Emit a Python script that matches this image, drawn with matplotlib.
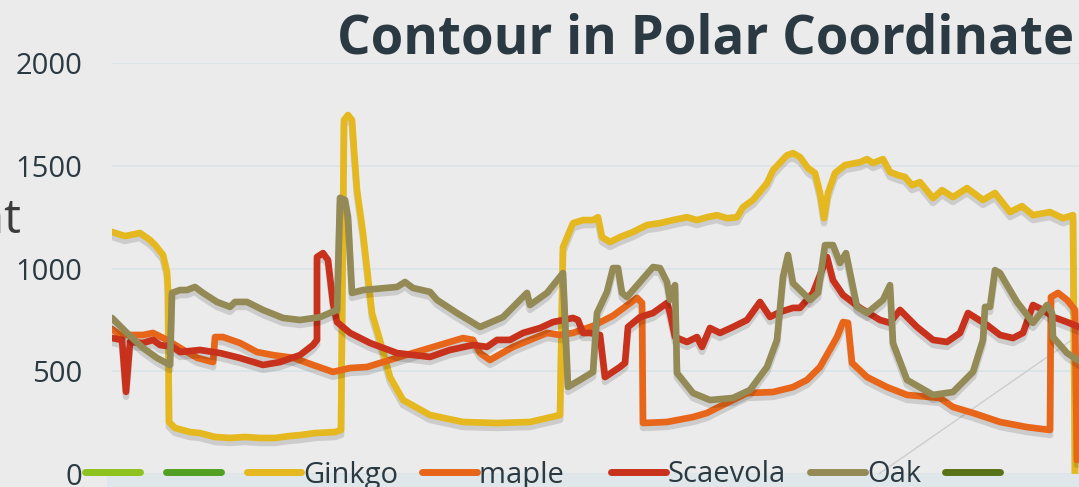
import matplotlib
matplotlib.use("Agg")
import matplotlib.pyplot as plt
import matplotlib.patheffects as pe
from matplotlib.lines import Line2D
from matplotlib.patches import Rectangle

plt.rcParams['font.family'] = ['Open Sans', 'DejaVu Sans']

# angle index (visible part of the chart) and height values
ginkgo_x = [0, 13, 28, 38, 43, 51, 55, 56, 57, 63, 78, 88, 103, 118, 133, 148, 163, 178, 188, 203,
            223, 229, 232, 236, 240, 242, 245, 251, 260, 268, 278, 291, 318, 351, 385, 418, 448, 451,
            461, 471, 481, 486, 490, 498, 508, 521, 535, 548, 561, 575, 585, 595, 605, 615, 625, 631,
            641, 655, 661, 675, 681, 688, 696, 703, 708, 712, 716, 723, 733, 748, 755, 761, 771, 778,
            786, 793, 800, 808, 821, 830, 841, 855, 871, 883, 898, 910, 921, 938, 951, 961, 963]
ginkgo_y = [1178, 1158, 1173, 1139, 1115, 1066, 983, 895, 252, 223, 203, 198, 179, 174, 179, 174, 174, 184, 188, 198,
            203, 213, 1723, 1748, 1723, 1577, 1382, 1172, 782, 650, 471, 359, 286, 252, 247, 252, 286, 1104,
            1221, 1236, 1236, 1250, 1153, 1129, 1153, 1178, 1212, 1221, 1236, 1250, 1236, 1250, 1260, 1245, 1250, 1299,
            1334, 1416, 1479, 1552, 1562, 1543, 1489, 1465, 1368, 1245, 1368, 1465, 1504, 1518, 1533, 1514, 1533, 1470,
            1455, 1446, 1406, 1421, 1343, 1382, 1348, 1392, 1334, 1368, 1275, 1304, 1260, 1275, 1245, 1260, 0]

maple_x = [0, 8, 31, 41, 55, 68, 85, 101, 103, 111, 128, 145, 161, 181, 201, 221, 238, 255, 285, 318,
           351, 361, 368, 378, 401, 435, 448, 461, 481, 501, 515, 525, 530, 531, 555, 581, 595, 615, 635,
           661, 681, 695, 708, 725, 731, 736, 740, 755, 775, 795, 828, 841, 861, 888, 915, 938, 939, 946,
           955, 963, 965]
maple_y = [705, 676, 676, 686, 652, 613, 565, 544, 666, 666, 637, 593, 578, 565, 530, 496, 515, 520, 565, 613,
           661, 652, 588, 554, 618, 686, 676, 686, 720, 770, 820, 857, 832, 247, 252, 276, 296, 345, 393,
           398, 422, 457, 520, 666, 739, 735, 540, 471, 422, 384, 369, 325, 296, 252, 227, 213, 861, 881,
           847, 798, 67]

scaevola_x = [0, 10, 14, 18, 31, 41, 48, 61, 68, 88, 108, 128, 151, 168, 188, 201, 205, 205, 211, 216,
              221, 225, 238, 258, 285, 318, 338, 361, 375, 385, 398, 411, 428, 441, 451, 461, 466, 471, 478,
              488, 493, 508, 513, 516, 528, 541, 555, 558, 563, 575, 585, 590, 598, 608, 621, 635, 648, 658,
              668, 681, 688, 701, 715, 721, 731, 748, 768, 778, 788, 805, 821, 835, 848, 856, 875, 888, 901,
              911, 921, 931, 941, 955, 967]
scaevola_y = [661, 652, 399, 642, 637, 652, 627, 618, 593, 603, 588, 564, 530, 544, 578, 627, 652, 1056, 1075, 1041,
              832, 739, 686, 637, 588, 569, 603, 627, 618, 652, 652, 686, 710, 739, 749, 759, 749, 686, 686,
              676, 471, 520, 540, 715, 763, 783, 832, 783, 666, 642, 666, 618, 710, 686, 715, 749, 837, 764,
              788, 808, 808, 881, 1056, 943, 871, 808, 749, 735, 798, 715, 652, 642, 686, 783, 725, 676, 661,
              686, 822, 798, 764, 739, 715]

oak_x = [0, 15, 31, 45, 58, 60, 68, 75, 83, 91, 105, 118, 123, 135, 151, 171, 188, 208, 225, 228,
         233, 236, 240, 251, 285, 293, 301, 318, 325, 345, 368, 391, 415, 418, 435, 451, 456, 468, 481,
         485, 495, 501, 506, 510, 515, 541, 548, 555, 558, 563, 565, 581, 598, 621, 638, 655, 665, 671,
         676, 681, 698, 706, 713, 721, 728, 734, 745, 755, 771, 778, 781, 795, 821, 841, 861, 871, 873,
         878, 883, 888, 895, 905, 921, 935, 940, 941, 955, 967]
oak_y = [759, 686, 613, 564, 530, 881, 895, 895, 910, 881, 837, 813, 837, 837, 798, 759, 749, 763, 798, 1344,
         1334, 1251, 881, 895, 910, 934, 905, 886, 847, 783, 715, 763, 881, 822, 881, 978, 423, 457, 496,
         783, 886, 1002, 1002, 881, 861, 1007, 1002, 934, 847, 919, 491, 393, 359, 369, 408, 520, 652, 959,
         1066, 929, 847, 881, 1114, 1114, 1027, 1075, 813, 783, 847, 919, 637, 457, 384, 398, 496, 652, 813,
         813, 992, 978, 919, 837, 735, 822, 783, 666, 588, 550]

# faint leftover guide line in the lower right
guide_x = [748, 967]
guide_y = [-65, 676]

legend_labels = ['', '', 'Ginkgo', 'maple   ', 'Scaevola', 'Oak', '']
legend_colors = ['#8DC21F', '#52A022', '#E5B81F', '#E8661A', '#C8311B', '#938A56', '#587218']
y_ticks = [0, 500, 1000, 1500, 2000]

bg = '#EBEBEB'
text_col = '#2B3A42'

fig = plt.figure(figsize=(10.79, 4.87), dpi=100, facecolor=bg)
ax = fig.add_axes([112 / 1079, 13.3 / 487, 975 / 1079, 410.4 / 487])
ax.set_facecolor(bg)

shadow = [pe.SimpleLineShadow(offset=(0, -3.5), shadow_color='#000000', alpha=0.13),
          pe.Normal()]

ax.plot(guide_x, guide_y, color='#CDCDCD', lw=1, clip_on=False, zorder=1)

series = [(ginkgo_x, ginkgo_y, '#E5B81F'), (maple_x, maple_y, '#E8661A'),
          (scaevola_x, scaevola_y, '#C8311B'), (oak_x, oak_y, '#938A56')]
for i, (xs, ys, c) in enumerate(series):
    ax.plot(xs, ys, color=c, lw=4.8, solid_joinstyle='round', solid_capstyle='round',
            path_effects=shadow, zorder=3 + i)

ax.set_xlim(0, 975)
ax.set_ylim(0, 2000)
ax.set_yticks(y_ticks)
ax.set_xticks([])
ax.tick_params(axis='y', length=0, pad=21.5, labelsize=21, labelcolor=text_col)
for s in ax.spines.values():
    s.set_visible(False)
ax.grid(axis='y', color='#D9E3E8', lw=1.2)
ax.set_axisbelow(True)

# slider strip at the bottom
fig.patches.append(Rectangle((107 / 1079, 0), 1 - 107 / 1079, 13.5 / 487, transform=fig.transFigure,
                             facecolor='#E0E7EA', edgecolor='none', zorder=0))

handles = [Line2D([], [], color=c, lw=5, solid_capstyle='round') for c in legend_colors]
fig.legend(handles, legend_labels, loc='center left', bbox_to_anchor=(85 / 1079, 12 / 487),
           ncol=7, frameon=False, fontsize=21, handlelength=1.88, handletextpad=0.07,
           columnspacing=0.82, borderpad=0, borderaxespad=0, labelcolor=text_col)

fig.text(337 / 1079, (487 - 54) / 487, 'Contour in Polar Coordinate', fontsize=38,
         fontweight='bold', color=text_col, ha='left', va='baseline')
fig.text(21 / 1079, (487 - 233) / 487, 'Height', fontsize=34, color='#3C3C3C',
         ha='right', va='baseline')

fig.savefig('out.png', dpi=100, facecolor=bg)
